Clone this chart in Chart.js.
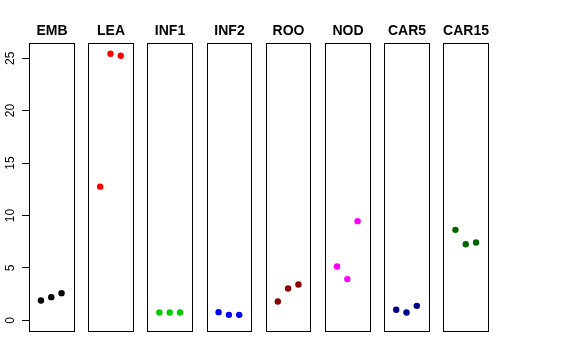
<!DOCTYPE html>
<html>
<head>
<meta charset="utf-8">
<script src="https://cdn.jsdelivr.net/npm/chart.js@4/dist/chart.umd.min.js"></script>
<style>
  html, body { margin: 0; padding: 0; background: #fff; }
  #wrap { width: 576px; height: 360px; }
</style>
</head>
<body>
<div id="wrap"><canvas id="chart"></canvas></div>
<script>
// panel names and the three replicate values in each panel
const panels = ['EMB', 'LEA', 'INF1', 'INF2', 'ROO', 'NOD', 'CAR5', 'CAR15'];
const rep1 = [1.89, 12.75, 0.74, 0.78, 1.79, 5.13, 1.00, 8.63];
const rep2 = [2.21, 25.43, 0.74, 0.52, 3.03, 3.93, 0.74, 7.26];
const rep3 = [2.59, 25.24, 0.74, 0.52, 3.41, 9.46, 1.38, 7.42];
const panelColors = ['#000000', '#FF0000', '#00CD00', '#0000FF', '#8B0000', '#FF00FF', '#00008B', '#006400'];
const yTicks = [0, 5, 10, 15, 20, 25];

// each panel spans -0.16..4.16 in its own x units, panels are STRIDE apart
const PANEL_LO = -0.16, PANEL_HI = 4.16, STRIDE = 5.747;

const datasets = panels.map((name, i) => ({
  label: name,
  data: [rep1[i], rep2[i], rep3[i]].map((v, j) => ({ x: i * STRIDE + j + 1, y: v })),
  backgroundColor: panelColors[i],
  borderColor: panelColors[i],
  pointRadius: 3.2,
  pointBorderWidth: 0
}));

// boxes round each panel and bold titles above them
const panelFrames = {
  id: 'panelFrames',
  afterDatasetsDraw(chart) {
    const { ctx, scales: { x, y } } = chart;
    const top = y.getPixelForValue(y.max), bottom = y.getPixelForValue(y.min);
    ctx.save();
    ctx.strokeStyle = '#000';
    ctx.lineWidth = 1;
    ctx.fillStyle = '#000';
    ctx.font = 'bold 14px "Liberation Sans", Arial, sans-serif';
    ctx.textAlign = 'center';
    ctx.textBaseline = 'alphabetic';
    panels.forEach((name, i) => {
      const l = Math.round(x.getPixelForValue(i * STRIDE + PANEL_LO)) + 0.5;
      const r = Math.round(x.getPixelForValue(i * STRIDE + PANEL_HI)) + 0.5;
      ctx.strokeRect(l, Math.round(top) + 0.5, r - l, Math.round(bottom - top));
      ctx.fillText(name, (l + r) / 2, 34.5);
    });
    ctx.restore();
  }
};

new Chart(document.getElementById('chart'), {
  type: 'scatter',
  data: { datasets },
  options: {
    responsive: true,
    maintainAspectRatio: false,
    animation: false,
    layout: { padding: { left: 0, right: 88, top: 43, bottom: 29 } },
    plugins: { legend: { display: false }, tooltip: { enabled: false } },
    scales: {
      x: {
        type: 'linear',
        display: false,
        min: PANEL_LO,
        max: (panels.length - 1) * STRIDE + PANEL_HI
      },
      y: {
        type: 'linear',
        min: -1.02,
        max: 26.45,
        afterFit(scale) { scale.width = 29; },
        afterBuildTicks(scale) { scale.ticks = yTicks.map(v => ({ value: v })); },
        border: { display: false },
        grid: { drawOnChartArea: false, tickLength: 7, color: '#000' },
        ticks: {
          color: '#000',
          padding: 5,
          minRotation: 90,
          maxRotation: 90,
          crossAlign: 'center',
          font: { family: '"Liberation Sans", Arial, sans-serif', size: 12 }
        }
      }
    }
  },
  plugins: [panelFrames]
});
</script>
</body>
</html>
